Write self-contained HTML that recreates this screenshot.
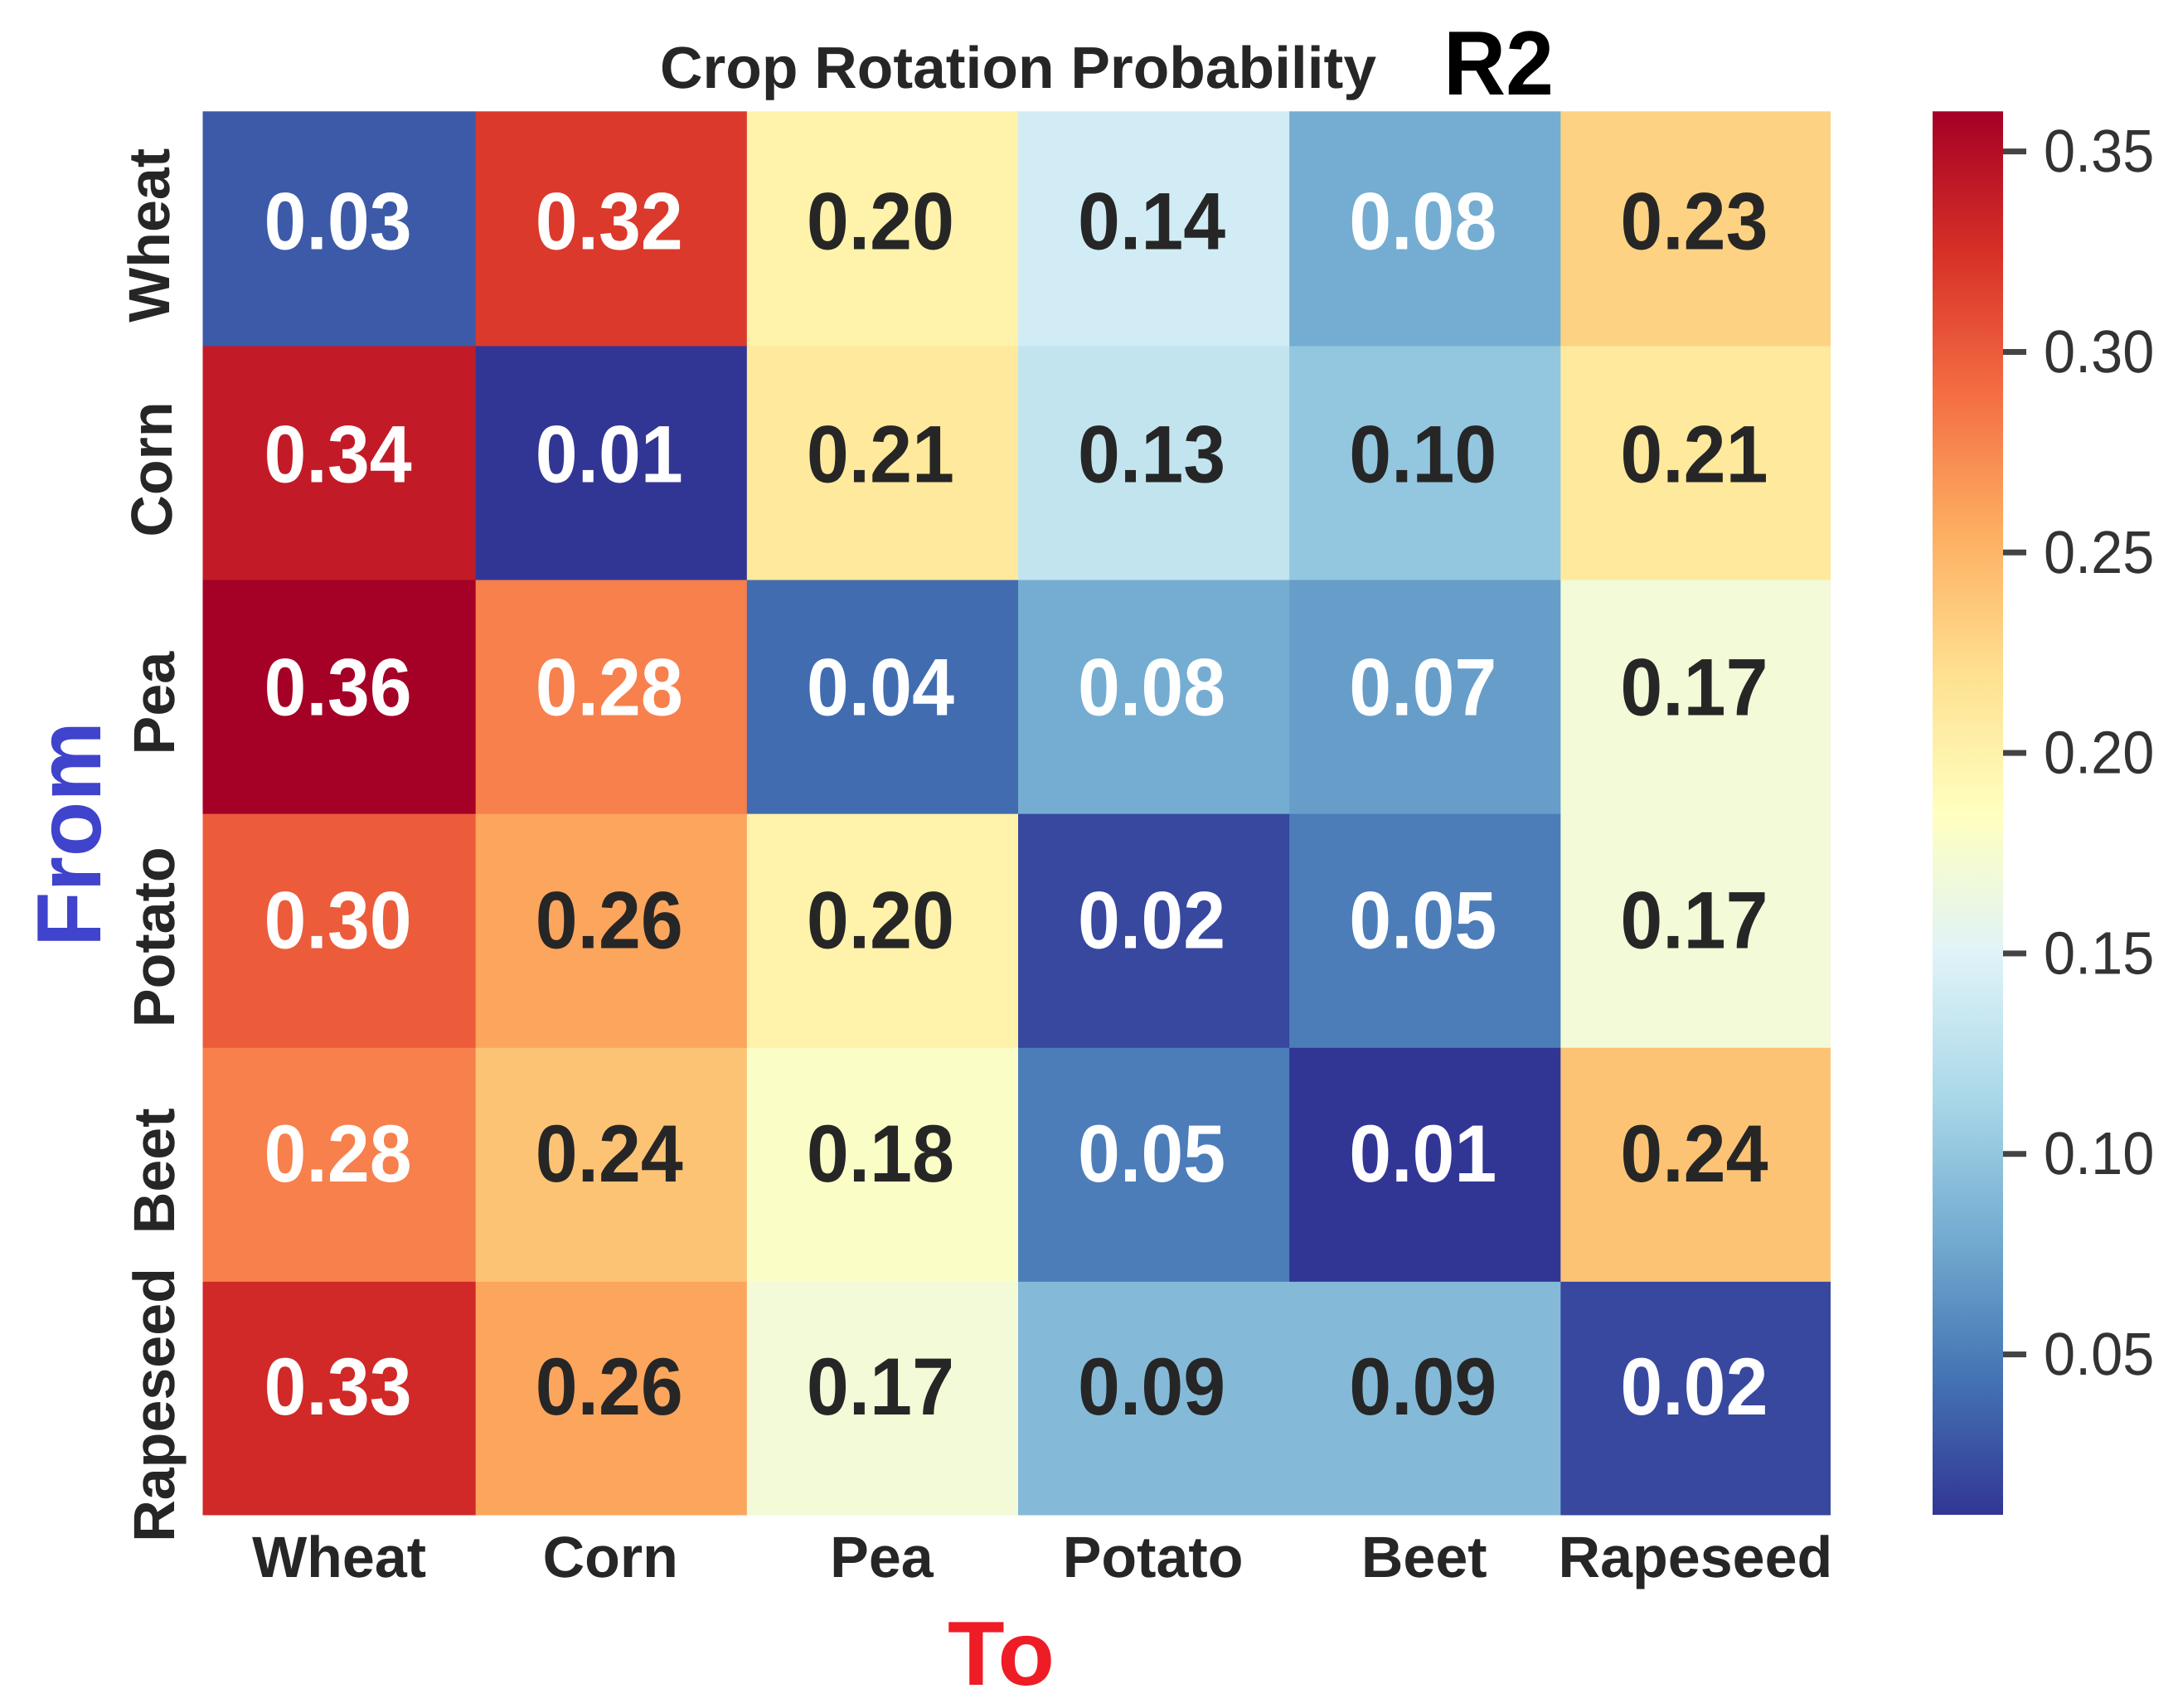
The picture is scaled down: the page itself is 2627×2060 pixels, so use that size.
<!DOCTYPE html>
<html lang="en">
<head>
<meta charset="utf-8">
<title>Crop Rotation Probability R2</title>
<style>
html,body{margin:0;padding:0;background:#fff;}
svg{display:block;}
text{font-family:"Liberation Sans",sans-serif;text-rendering:geometricPrecision;}
.b{font-weight:700;}
</style>
</head>
<body>
<svg id="chart" xmlns="http://www.w3.org/2000/svg" width="2627" height="2060" viewBox="0 0 2627 2060">
  <rect x="0" y="0" width="2627" height="2060" fill="#ffffff"/>
  <defs><linearGradient id="cbGrad" x1="0" y1="1" x2="0" y2="0"></linearGradient></defs>
  <g id="cells"></g>
  <g id="annots"></g>
  <g id="xlabels"></g>
  <g id="ylabels"></g>
  <g id="colorbar"></g>
  <text class="b" x="1228" y="106" font-size="71" text-anchor="middle" fill="#262626" textLength="864" lengthAdjust="spacingAndGlyphs">Crop Rotation Probability</text>
  <text class="b" x="1741" y="114" font-size="110" fill="#000000" textLength="133" lengthAdjust="spacingAndGlyphs">R2</text>
  <text class="b" x="1143" y="2032" font-size="110" fill="#ee1c25" textLength="129" lengthAdjust="spacingAndGlyphs">To</text>
  <text class="b" transform="translate(121,1142) rotate(-90)" x="0" y="0" font-size="110" fill="#4043cc" textLength="272" lengthAdjust="spacingAndGlyphs">From</text>
</svg>
<script>
const crops = ["Wheat", "Corn", "Pea", "Potato", "Beet", "Rapeseed"];
const fromWheat = [0.03, 0.32, 0.20, 0.14, 0.08, 0.23];
const fromCorn = [0.34, 0.01, 0.21, 0.13, 0.10, 0.21];
const fromPea = [0.36, 0.28, 0.04, 0.08, 0.07, 0.17];
const fromPotato = [0.30, 0.26, 0.20, 0.02, 0.05, 0.17];
const fromBeet = [0.28, 0.24, 0.18, 0.05, 0.01, 0.24];
const fromRapeseed = [0.33, 0.26, 0.17, 0.09, 0.09, 0.02];
const colorbarTicks = [0.05, 0.10, 0.15, 0.20, 0.25, 0.30, 0.35];
const valueMin = 0.01;
const valueMax = 0.36;

const matrix = [fromWheat, fromCorn, fromPea, fromPotato, fromBeet, fromRapeseed];
const NS = "http://www.w3.org/2000/svg";
const cmap = [[49,54,149],[69,117,180],[116,173,209],[171,217,233],[224,243,248],[255,255,191],[254,224,144],[253,174,97],[244,109,67],[215,48,39],[165,0,38]];

function colorFor(v) {
  const t = Math.max(0, Math.min(1, (v - valueMin) / (valueMax - valueMin))) * (cmap.length - 1);
  const i = Math.min(cmap.length - 2, Math.floor(t));
  const f = t - i;
  return cmap[i].map((c, k) => Math.round(c + (cmap[i + 1][k] - c) * f));
}
function luminance(rgb) {
  const l = rgb.map(c => { const s = c / 255; return s <= 0.03928 ? s / 12.92 : Math.pow((s + 0.055) / 1.055, 2.4); });
  return 0.2126 * l[0] + 0.7152 * l[1] + 0.0722 * l[2];
}
const plotLeft = 244.5, plotRight = 2207.5, plotTop = 134.3, plotBottom = 1827;
const colW = (plotRight - plotLeft) / crops.length;
const rowH = (plotBottom - plotTop) / matrix.length;
function xEdge(i) { return plotLeft + colW * i + ((i === 0 || i === crops.length) ? 0 : 2); }
function yEdge(i) { return plotTop + rowH * i + ((i === 0 || i === matrix.length) ? 0 : 1); }
function xCenter(i) { return plotLeft + colW * (i + 0.5) - 0.5; }
function yCenter(i) { return plotTop + rowH * (i + 0.5); }

const cellsG = document.getElementById("cells");
const annotsG = document.getElementById("annots");
matrix.forEach((row, r) => {
  row.forEach((v, c) => {
    const rgb = colorFor(v);
    const rect = document.createElementNS(NS, "rect");
    
    
    rect.setAttribute("x", xEdge(c));
    rect.setAttribute("y", yEdge(r));
    rect.setAttribute("width", xEdge(c + 1) - xEdge(c) + 0.5);
    rect.setAttribute("height", yEdge(r + 1) - yEdge(r) + 0.5);
    rect.setAttribute("fill", "rgb(" + rgb.join(",") + ")");
    cellsG.appendChild(rect);

    const t = document.createElementNS(NS, "text");
    
    
    t.setAttribute("class", "b");
    t.setAttribute("transform", "translate(" + xCenter(c) + "," + (yCenter(r) + 25 - r) + ") scale(1,1.07)");
    t.setAttribute("font-size", "91.5");
    t.setAttribute("text-anchor", "middle");
    t.setAttribute("fill", luminance(rgb) > 0.408 ? "#262626" : "#ffffff");
    t.textContent = v.toFixed(2);
    annotsG.appendChild(t);
  });
});

const xG = document.getElementById("xlabels");
crops.forEach((name, i) => {
  const t = document.createElementNS(NS, "text");
  
  
  t.setAttribute("class", "b");
  t.setAttribute("x", xCenter(i) + 1.5);
  t.setAttribute("y", 1902);
  t.setAttribute("font-size", "70");
  t.setAttribute("text-anchor", "middle");
  t.setAttribute("fill", "#262626");
  t.textContent = name;
  xG.appendChild(t);
});

const yG = document.getElementById("ylabels");
crops.forEach((name, i) => {
  const t = document.createElementNS(NS, "text");
  const baseline = Math.min(210, 204 + 3 * i);
  
  
  t.setAttribute("class", "b");
  t.setAttribute("transform", "translate(" + baseline + "," + (yCenter(i) + 8.5) + ") rotate(-90)");
  t.setAttribute("font-size", "70");
  t.setAttribute("text-anchor", "middle");
  t.setAttribute("fill", "#262626");
  t.textContent = name;
  yG.appendChild(t);
});

const grad = document.getElementById("cbGrad");
cmap.forEach((c, i) => {
  const s = document.createElementNS(NS, "stop");
  
  
  s.setAttribute("offset", i / (cmap.length - 1));
  s.setAttribute("stop-color", "rgb(" + c.join(",") + ")");
  grad.appendChild(s);
});

const cbG = document.getElementById("colorbar");
const cbRect = document.createElementNS(NS, "rect");


cbRect.setAttribute("x", 2331);
cbRect.setAttribute("y", plotTop);
cbRect.setAttribute("width", 85);
cbRect.setAttribute("height", plotBottom - plotTop);
cbRect.setAttribute("fill", "url(#cbGrad)");
cbG.appendChild(cbRect);

function colorbarScaleY(v) { return plotBottom - (v - valueMin) / (valueMax - valueMin) * (plotBottom - plotTop); }
colorbarTicks.forEach(v => {
  const y = colorbarScaleY(v);
  const tick = document.createElementNS(NS, "rect");
  
  
  tick.setAttribute("x", 2416);
  tick.setAttribute("y", y - 3.5);
  tick.setAttribute("width", 28);
  tick.setAttribute("height", 7);
  tick.setAttribute("fill", "#444444");
  cbG.appendChild(tick);

  const t = document.createElementNS(NS, "text");
  
  
  t.setAttribute("transform", "translate(2465," + (y + 24.5) + ") scale(1,1.06)");
  t.setAttribute("font-size", "68.5");
  t.setAttribute("fill", "#333333");
  t.textContent = v.toFixed(2);
  cbG.appendChild(t);
});
</script>
</body>
</html>
